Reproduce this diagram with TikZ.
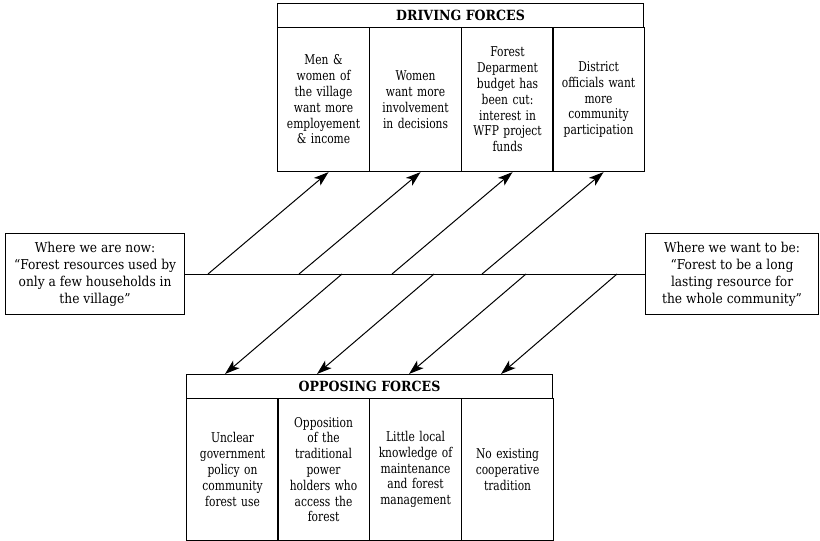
\documentclass[tikz,border=0pt]{standalone}
\usepackage{fontspec}
\setmainfont{DejaVu Serif Condensed}
\newfontfamily\colfont[FakeStretch=0.88]{DejaVu Serif Condensed}
\usetikzlibrary{arrows.meta}

\begin{document}
\begin{tikzpicture}[x=1pt,y=-1pt,
  boxline/.style={draw, line width=1.1pt},
  header/.style={boxline, anchor=north west, minimum width=366pt, minimum height=24pt,
    inner sep=0pt, font=\fontsize{14}{15}\selectfont\bfseries},
  forcecol/.style={boxline, anchor=north west, minimum width=92pt, text width=90pt,
    align=center, inner sep=0pt, font=\colfont\fontsize{13.5}{15.8}\selectfont},
  statebox/.style={boxline, anchor=north west, minimum height=81pt, inner sep=0pt,
    align=center, font=\fontsize{13.6}{17}\selectfont},
  force/.style={line width=1pt, -{Stealth[length=15pt,width=10pt,inset=4pt]}},
  mainline/.style={line width=1.1pt}
]
\useasboundingbox (0,0) rectangle (820,541);

% driving forces
\node[header] (dh) at (277,3) {DRIVING FORCES};
\node[forcecol, minimum height=144pt] (d1) at (277,27) {Men \&\\women of\\the village\\want more\\employement\\\& income};
\node[forcecol, minimum height=144pt] (d2) at (369,27) {Women\\want more\\involvement\\in decisions};
\node[forcecol, minimum height=144pt] (d3) at (461,27) {Forest\\Deparment\\budget has\\been cut:\\interest in\\WFP project\\funds};
\node[forcecol, minimum height=144pt] (d4) at (552,27) {District\\officials want\\more\\community\\participation};

% opposing forces
\node[header] (oh) at (186,374) {OPPOSING FORCES};
\node[forcecol, minimum height=142pt] (o1) at (186,398) {Unclear\\government\\policy on\\community\\forest use};
\node[forcecol, minimum height=142pt] (o2) at (277,398) {Opposition\\of the\\traditional\\power\\holders who\\access the\\forest};
\node[forcecol, minimum height=142pt] (o3) at (369,398) {Little local\\knowledge of\\maintenance\\and forest\\management};
\node[forcecol, minimum height=142pt] (o4) at (461,398) {No existing\\cooperative\\tradition};

% current and desired states
\node[statebox, minimum width=179pt] (now) at (5,233) {Where we are now:\\“Forest resources used by\\only a few households in\\the village”};
\node[statebox, minimum width=173pt] (want) at (645,233) {Where we want to be:\\“Forest to be a long\\lasting resource for\\the whole community”};

\draw[mainline] (now.east) -- (want.west);

% points on the line where the forces start
\coordinate (a1) at (208,274);
\coordinate (a2) at (299,274);
\coordinate (a3) at (392,274);
\coordinate (a4) at (482,274);
\coordinate (b1) at (342,274);
\coordinate (b2) at (434,274);
\coordinate (b3) at (526,274);
\coordinate (b4) at (617,274);

\draw[force] (a1) -- ([xshift=5pt]d1.south);
\draw[force] (a2) -- ([xshift=5pt]d2.south);
\draw[force] (a3) -- ([xshift=5pt]d3.south);
\draw[force] (a4) -- ([xshift=5pt]d4.south);

\draw[force] (b1) -- ([xshift=39pt]oh.north west);
\draw[force] (b2) -- ([xshift=131pt]oh.north west);
\draw[force] (b3) -- ([xshift=223pt]oh.north west);
\draw[force] (b4) -- ([xshift=315pt]oh.north west);
\end{tikzpicture}
\end{document}
